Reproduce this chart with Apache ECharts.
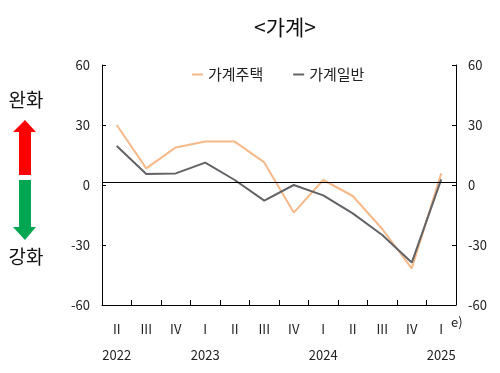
<!DOCTYPE html>
<html><head><meta charset="utf-8">
<script src="https://cdn.jsdelivr.net/npm/echarts@6/dist/echarts.min.js"></script>
<style>html,body{margin:0;padding:0;background:#fff}#c{width:500px;height:373px}</style>
</head><body><div id="c"></div>
<script>
const quarters = ['II','III','IV','I','II','III','IV','I','II','III','IV','I'];
const years = ['2022','','','2023','','','','2024','','','','2025'];
const housing = [30, 8.3, 18.8, 21.7, 21.7, 11.3, -13.8, 2.5, -5.5, -22, -41.7, 5.8];
const general = [19.5, 5.5, 5.8, 11.2, 2.5, -7.8, 0, -5.2, -14.2, -25, -38.8, 2.8];
const yTicks = [-60, -30, 0, 30, 60];
const FONT = '"Noto Sans CJK KR", "Noto Sans", sans-serif';

const chart = echarts.init(document.getElementById('c'), null, {renderer: 'canvas'});
const yAxisBase = {
  type: 'value', min: yTicks[0], max: yTicks[yTicks.length-1], interval: 30,
  axisLine: {show: true, lineStyle: {color: '#000', width: 1}},
  axisTick: {show: true, inside: true, length: 4, lineStyle: {color: '#000'}},
  splitLine: {show: false},
  axisLabel: {color: '#222', fontSize: 13, fontFamily: FONT, margin: 12}
};
chart.setOption({
  animation: false,
  title: {
    text: '<가계>', left: 280, top: 12, textAlign: 'center',
    textStyle: {fontSize: 21, fontWeight: 'normal', color: '#111', fontFamily: FONT}
  },
  legend: {
    top: 62, left: 187, itemGap: 30, itemWidth: 11, itemHeight: 2, icon: 'rect',
    textStyle: {fontSize: 15, color: '#222', fontFamily: FONT},
    data: ['가계주택', '가계일반']
  },
  grid: {left: 102, right: 44, top: 65, bottom: 68, containLabel: false, outerBoundsMode: 'none'},
  xAxis: {
    type: 'category', data: quarters, boundaryGap: true,
    axisLine: {show: true, onZero: false, lineStyle: {color: '#000', width: 1}},
    axisTick: {show: true, inside: true, length: 5, interval: 0, lineStyle: {color: '#000'}},
    axisLabel: {
      interval: 0, margin: 11, color: '#222', fontSize: 13, fontFamily: FONT, lineHeight: 26,
      formatter: (v, i) => v + '\n' + (years[i] || ' ')
    }
  },
  yAxis: [
    Object.assign({}, yAxisBase, {position: 'left'}),
    Object.assign({}, yAxisBase, {position: 'right'})
  ],
  series: [
    {
      name: '가계주택', type: 'line', data: housing, showSymbol: false, symbol: 'none',
      lineStyle: {color: '#f5b98a', width: 2}, itemStyle: {color: '#f5b98a'},
      markLine: {
        silent: true, symbol: 'none', label: {show: false},
        lineStyle: {color: '#000', width: 1, type: 'solid'},
        data: [{yAxis: 1.5}]
      }
    },
    {
      name: '가계일반', type: 'line', data: general, showSymbol: false, symbol: 'none',
      lineStyle: {color: '#626366', width: 2}, itemStyle: {color: '#626366'}
    }
  ],
  graphic: [
    {type: 'text', style: {text: '완화', x: 26, y: 100, textAlign: 'center', textVerticalAlign: 'middle', fontSize: 19, fill: '#111', fontFamily: FONT}},
    {type: 'text', style: {text: '강화', x: 26, y: 257, textAlign: 'center', textVerticalAlign: 'middle', fontSize: 19, fill: '#111', fontFamily: FONT}},
    {type: 'polygon', shape: {points: [[25,120],[36,132],[31,132],[31,175],[19,175],[19,132],[13,132]]}, style: {fill: '#ff0000'}},
    {type: 'polygon', shape: {points: [[19,180],[31,180],[31,227],[36,227],[25,240],[13,227],[19,227]]}, style: {fill: '#00a651'}},
    {type: 'text', style: {text: 'e)', x: 451, y: 322, textVerticalAlign: 'middle', fontSize: 13, fill: '#222', fontFamily: FONT}}
  ]
});
</script></body></html>
